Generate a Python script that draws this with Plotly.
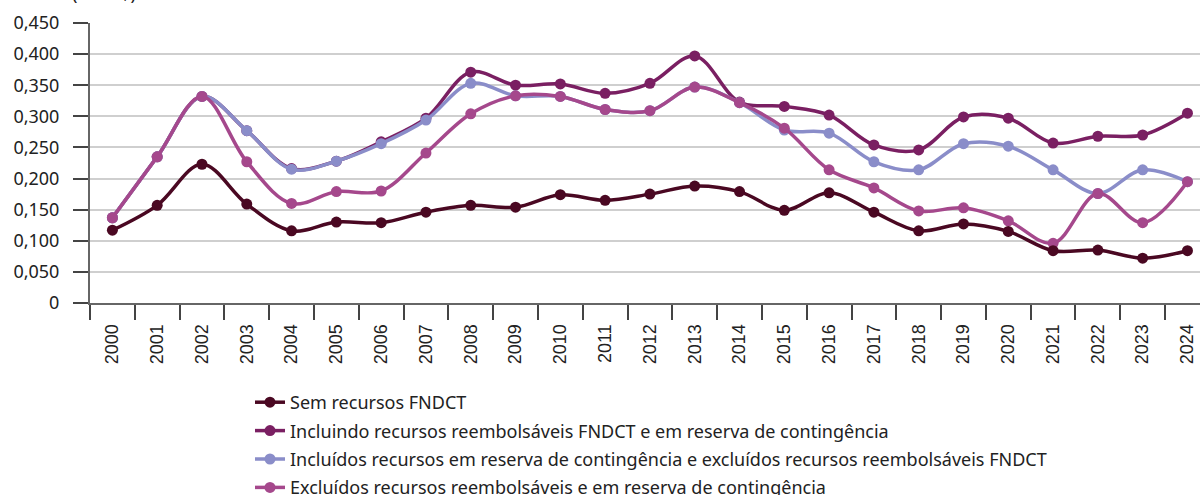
import plotly.graph_objects as go

years = [str(y) for y in range(2000, 2025)]

sem_fndct = [0.117, 0.157, 0.223, 0.159, 0.116, 0.130, 0.129, 0.146, 0.157, 0.154,
             0.174, 0.165, 0.175, 0.188, 0.179, 0.149, 0.177, 0.146, 0.116, 0.127,
             0.115, 0.084, 0.085, 0.072, 0.084]
incluindo = [0.137, 0.235, 0.332, 0.277, 0.216, 0.228, 0.259, 0.297, 0.371, 0.350,
             0.352, 0.337, 0.353, 0.397, 0.323, 0.316, 0.302, 0.254, 0.246, 0.299,
             0.297, 0.257, 0.268, 0.270, 0.305]
incluidos = [0.137, 0.235, 0.332, 0.277, 0.215, 0.228, 0.256, 0.294, 0.353, 0.333,
             0.332, 0.311, 0.309, 0.347, 0.322, 0.278, 0.273, 0.227, 0.214, 0.256,
             0.252, 0.214, 0.176, 0.214, 0.195]
excluidos = [0.137, 0.235, 0.332, 0.227, 0.160, 0.179, 0.180, 0.241, 0.304, 0.333,
             0.332, 0.311, 0.309, 0.347, 0.322, 0.281, 0.214, 0.185, 0.148, 0.153,
             0.132, 0.096, 0.176, 0.129, 0.195]

names = [
    "Sem recursos FNDCT",
    "Incluindo recursos reembolsáveis FNDCT e em reserva de contingência",
    "Incluídos recursos em reserva de contingência e excluídos recursos reembolsáveis FNDCT",
    "Excluídos recursos reembolsáveis e em reserva de contingência",
]
colors = ["#4a0822", "#7a1f62", "#8a8dc9", "#a5488c"]

ytick_vals = [0, 0.05, 0.1, 0.15, 0.2, 0.25, 0.3, 0.35, 0.4, 0.45]
ytick_text = ["0", "0,050", "0,100", "0,150", "0,200", "0,250", "0,300", "0,350", "0,400", "0,450"]

series = [sem_fndct, incluindo, incluidos, excluidos]
draw_order = [1, 2, 3, 0]

fig = go.Figure()
for i in draw_order:
    fig.add_trace(go.Scatter(
        x=years, y=series[i], name=names[i], mode="lines+markers",
        line=dict(color=colors[i], width=3.5, shape="spline", smoothing=1),
        marker=dict(color=colors[i], size=11),
        legendrank=i + 1, legendgroup=f"g{i}",
    ))

fig.add_annotation(text="(Em R$)", xref="paper", yref="paper",
                   x=(70 - 90) / 1110, y=1 + (23 - 7) / 280,
                   xanchor="left", yanchor="bottom", showarrow=False,
                   font=dict(family="Noto Sans", size=18, color="#222"))

fig.update_layout(
    width=1200, height=495,
    margin=dict(l=90, r=0, t=23, b=192, autoexpand=False),
    plot_bgcolor="white", paper_bgcolor="white",
    font=dict(family="Noto Sans", size=18, color="#222"),
    showlegend=True,
    legend=dict(x=(250 - 90) / 1110, y=(303 - 384) / 280, xanchor="left", yanchor="top",
                font=dict(family="Noto Sans", size=18, color="#222"),
                tracegroupgap=2, bgcolor="rgba(0,0,0,0)"),
    xaxis=dict(
        type="category", range=[-0.5, 24.28],
        showline=True, linecolor="#666", linewidth=2,
        ticks="outside", tickson="boundaries", ticklen=15, tickcolor="#444", tickwidth=1.5,
        tickangle=-90, ticklabelstandoff=12, automargin=False,
        tickfont=dict(family="Liberation Sans", size=18, color="#222"),
        showgrid=False,
    ),
    yaxis=dict(
        range=[0, 0.45], tickvals=ytick_vals, ticktext=ytick_text,
        showline=True, linecolor="#666", linewidth=2,
        ticks="outside", ticklen=15, tickcolor="#444", tickwidth=1.5,
        ticklabelstandoff=10, automargin=False,
        showgrid=True, gridcolor="#cfcfcf", gridwidth=1.5,
        zeroline=False,
        tickfont=dict(family="Noto Sans", size=18, color="#222"),
    ),
)

fig.write_html("out.html", config={"displayModeBar": False},
               post_script="document.body.style.margin='0';document.body.style.overflow='hidden';")
